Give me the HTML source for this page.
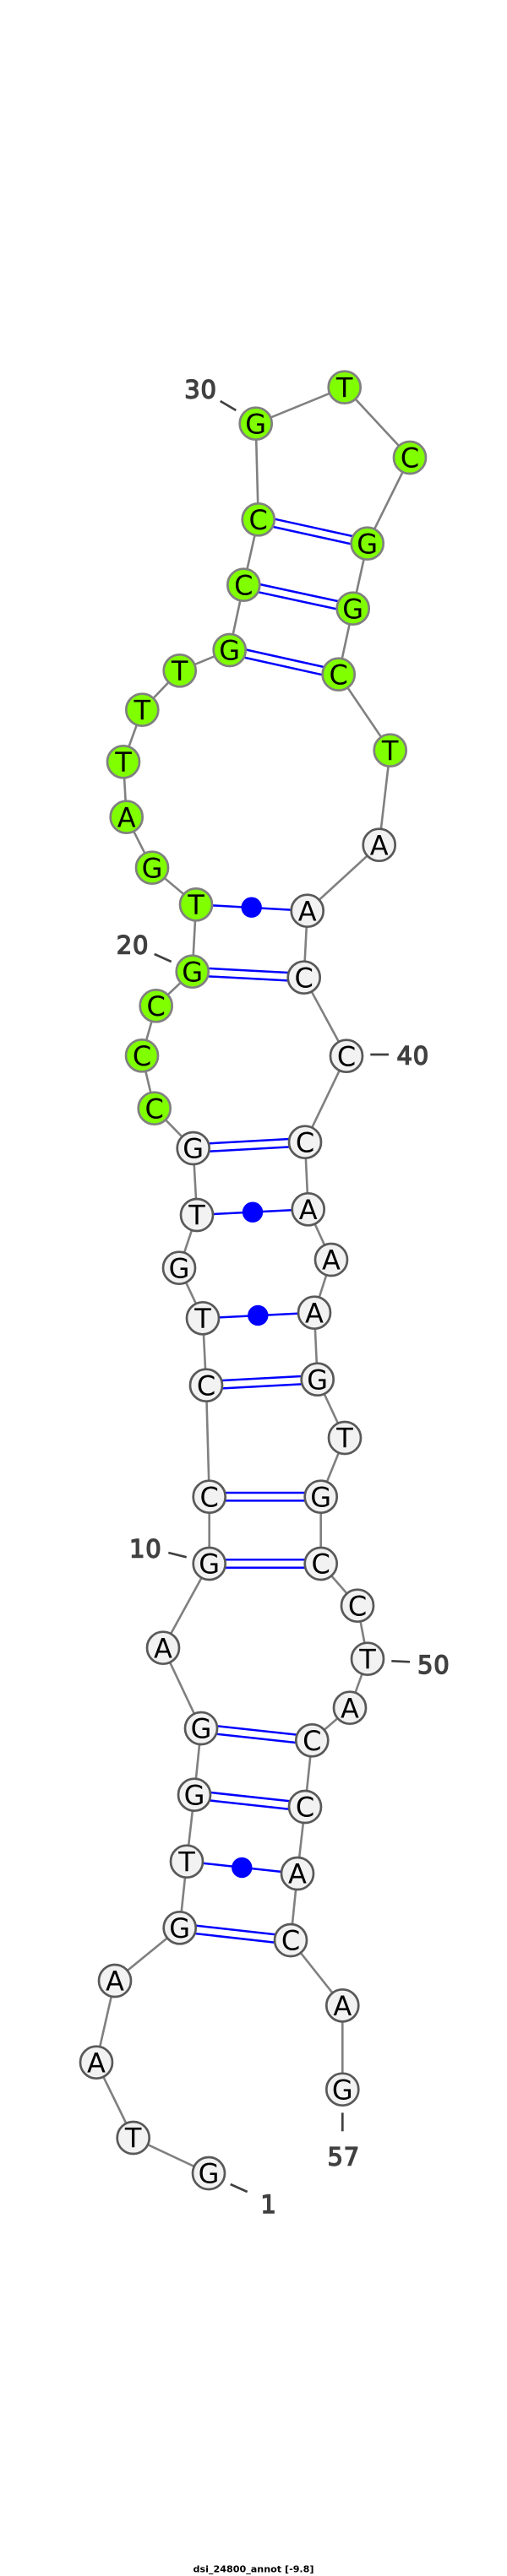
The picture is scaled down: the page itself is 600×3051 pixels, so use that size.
<!DOCTYPE html>
<html><head><meta charset="utf-8"><style>
html,body{margin:0;padding:0;background:#fff}
svg{display:block}
.n{font-family:"DejaVu Sans",sans-serif;font-size:32px;text-anchor:middle;fill:#000}
.l{font-family:"DejaVu Sans",sans-serif;font-size:29px;letter-spacing:.8px;text-anchor:middle;fill:#404040;stroke:#404040;stroke-width:1.4}
.t line{stroke:#404040;stroke-width:2.7}
.b line{stroke:#0000ff;stroke-width:2.5}
.w circle{fill:#f2f2f2;stroke:#595959;stroke-width:2.7}
.g circle{fill:#7fff00;stroke:#808080;stroke-width:2.7}
</style></head><body>
<svg xmlns="http://www.w3.org/2000/svg" width="600" height="3051" viewBox="0 0 600 3051">
<rect width="600" height="3051" fill="#fff"/>
<polyline fill="none" stroke="#808080" stroke-width="2.6" points="247,2574 157.7,2532 114,2442.7 136,2346 212.7,2283.3 221,2204.7 230,2125.7 238,2047 193,1951.7 247.7,1852 247.7,1772.7 244,1640.7 240,1561.3 212,1501.7 233,1439 228.7,1360 182.7,1312.7 168,1250.3 184.7,1191.3 227.7,1150.7 232,1071.3 180,1027.7 149.7,967.7 146,902.3 168.3,840.7 212.7,794.3 271.7,770 288.3,692.7 305.7,615.3 302.7,501.7 407.7,458.7 485,542 434.7,643.7 417.7,720.7 400.7,798.7 461.7,888.7 448.7,1000.7 363.7,1078.7 359.7,1157.7 410,1250.7 361,1352.7 364.7,1432.3 392,1492 372,1554.7 375.7,1633.7 408,1703 379.7,1772.7 379.7,1852 423,1901.7 435,1964.7 414,2022.7 369.3,2061.3 361,2140 352,2219 344,2298 405.3,2375.3 405.3,2474.7"/>
<g class="b">
<line x1="213.2" y1="2278.6" x2="344.5" y2="2293.3"/><line x1="212.2" y1="2288" x2="343.5" y2="2302.7"/>
<line x1="230.5" y1="2121" x2="361.5" y2="2135.3"/><line x1="229.5" y1="2130.4" x2="360.5" y2="2144.7"/>
<line x1="238.5" y1="2042.3" x2="369.8" y2="2056.6"/><line x1="237.5" y1="2051.7" x2="368.8" y2="2066"/>
<line x1="247.7" y1="1847.3" x2="379.7" y2="1847.3"/><line x1="247.7" y1="1856.7" x2="379.7" y2="1856.7"/>
<line x1="247.7" y1="1768" x2="379.7" y2="1768"/><line x1="247.7" y1="1777.4" x2="379.7" y2="1777.4"/>
<line x1="243.75" y1="1636" x2="375.45" y2="1629"/><line x1="244.25" y1="1645.4" x2="375.95" y2="1638.4"/>
<line x1="228.45" y1="1355.3" x2="360.75" y2="1348"/><line x1="228.95" y1="1364.7" x2="361.25" y2="1357.4"/>
<line x1="227.95" y1="1146" x2="359.95" y2="1153"/><line x1="227.45" y1="1155.4" x2="359.45" y2="1162.4"/>
<line x1="272.7" y1="765.4" x2="401.7" y2="794.1"/><line x1="270.7" y1="774.6" x2="399.7" y2="803.3"/>
<line x1="289.3" y1="688.1" x2="418.7" y2="716.1"/><line x1="287.3" y1="697.3" x2="416.7" y2="725.3"/>
<line x1="306.7" y1="610.7" x2="435.7" y2="639.1"/><line x1="304.7" y1="619.9" x2="433.7" y2="648.3"/>
<line x1="221" y1="2204.7" x2="352" y2="2219"/>
<line x1="240" y1="1561.3" x2="372" y2="1554.7"/>
<line x1="233" y1="1439" x2="364.7" y2="1432.3"/>
<line x1="232" y1="1071.3" x2="363.7" y2="1078.7"/>
</g>
<g fill="#0000ff">
<circle cx="286.3" cy="2212" r="12.2"/>
<circle cx="305.3" cy="1558" r="12.2"/>
<circle cx="299" cy="1435.7" r="12.2"/>
<circle cx="297.7" cy="1074.7" r="12.2"/>
</g>
<g class="w">
<circle cx="247" cy="2574" r="19"/><circle cx="157.7" cy="2532" r="19"/><circle cx="114" cy="2442.7" r="19"/><circle cx="136" cy="2346" r="19"/><circle cx="212.7" cy="2283.3" r="19"/><circle cx="221" cy="2204.7" r="19"/><circle cx="230" cy="2125.7" r="19"/><circle cx="238" cy="2047" r="19"/><circle cx="193" cy="1951.7" r="19"/><circle cx="247.7" cy="1852" r="19"/><circle cx="247.7" cy="1772.7" r="19"/><circle cx="244" cy="1640.7" r="19"/><circle cx="240" cy="1561.3" r="19"/><circle cx="212" cy="1501.7" r="19"/><circle cx="233" cy="1439" r="19"/><circle cx="228.7" cy="1360" r="19"/>
<circle cx="448.7" cy="1000.7" r="19"/><circle cx="363.7" cy="1078.7" r="19"/><circle cx="359.7" cy="1157.7" r="19"/><circle cx="410" cy="1250.7" r="19"/><circle cx="361" cy="1352.7" r="19"/><circle cx="364.7" cy="1432.3" r="19"/><circle cx="392" cy="1492" r="19"/><circle cx="372" cy="1554.7" r="19"/><circle cx="375.7" cy="1633.7" r="19"/><circle cx="408" cy="1703" r="19"/><circle cx="379.7" cy="1772.7" r="19"/><circle cx="379.7" cy="1852" r="19"/><circle cx="423" cy="1901.7" r="19"/><circle cx="435" cy="1964.7" r="19"/><circle cx="414" cy="2022.7" r="19"/><circle cx="369.3" cy="2061.3" r="19"/><circle cx="361" cy="2140" r="19"/><circle cx="352" cy="2219" r="19"/><circle cx="344" cy="2298" r="19"/><circle cx="405.3" cy="2375.3" r="19"/><circle cx="405.3" cy="2474.7" r="19"/>
</g>
<g class="g">
<circle cx="182.7" cy="1312.7" r="19"/><circle cx="168" cy="1250.3" r="19"/><circle cx="184.7" cy="1191.3" r="19"/><circle cx="227.7" cy="1150.7" r="19"/><circle cx="232" cy="1071.3" r="19"/><circle cx="180" cy="1027.7" r="19"/><circle cx="149.7" cy="967.7" r="19"/><circle cx="146" cy="902.3" r="19"/><circle cx="168.3" cy="840.7" r="19"/><circle cx="212.7" cy="794.3" r="19"/><circle cx="271.7" cy="770" r="19"/><circle cx="288.3" cy="692.7" r="19"/><circle cx="305.7" cy="615.3" r="19"/><circle cx="302.7" cy="501.7" r="19"/><circle cx="407.7" cy="458.7" r="19"/><circle cx="485" cy="542" r="19"/><circle cx="434.7" cy="643.7" r="19"/><circle cx="417.7" cy="720.7" r="19"/><circle cx="400.7" cy="798.7" r="19"/><circle cx="461.7" cy="888.7" r="19"/>
</g>
<g class="n">
<text x="247" y="2585.7">G</text><text x="157.7" y="2543.7">T</text><text x="114" y="2454.4">A</text><text x="136" y="2357.7">A</text><text x="212.7" y="2295">G</text><text x="221" y="2216.4">T</text><text x="230" y="2137.4">G</text><text x="238" y="2058.7">G</text><text x="193" y="1963.4">A</text><text x="247.7" y="1863.7">G</text><text x="247.7" y="1784.4">C</text><text x="244" y="1652.4">C</text><text x="240" y="1573">T</text><text x="212" y="1513.4">G</text><text x="233" y="1450.7">T</text><text x="228.7" y="1371.7">G</text><text x="182.7" y="1324.4">C</text><text x="168" y="1262">C</text><text x="184.7" y="1203">C</text><text x="227.7" y="1162.4">G</text><text x="232" y="1083">T</text><text x="180" y="1039.4">G</text><text x="149.7" y="979.4">A</text><text x="146" y="914">T</text><text x="168.3" y="852.4">T</text><text x="212.7" y="806">T</text><text x="271.7" y="781.7">G</text><text x="288.3" y="704.4">C</text><text x="305.7" y="627">C</text><text x="302.7" y="513.4">G</text><text x="407.7" y="470.4">T</text><text x="485" y="553.7">C</text><text x="434.7" y="655.4">G</text><text x="417.7" y="732.4">G</text><text x="400.7" y="810.4">C</text><text x="461.7" y="900.4">T</text><text x="448.7" y="1012.4">A</text><text x="363.7" y="1090.4">A</text><text x="359.7" y="1169.4">C</text><text x="410" y="1262.4">C</text><text x="361" y="1364.4">C</text><text x="364.7" y="1444">A</text><text x="392" y="1503.7">A</text><text x="372" y="1566.4">A</text><text x="375.7" y="1645.4">G</text><text x="408" y="1714.7">T</text><text x="379.7" y="1784.4">G</text><text x="379.7" y="1863.7">C</text><text x="423" y="1913.4">C</text><text x="435" y="1976.4">T</text><text x="414" y="2034.4">A</text><text x="369.3" y="2073">C</text><text x="361" y="2151.7">C</text><text x="352" y="2230.7">A</text><text x="344" y="2309.7">C</text><text x="405.3" y="2387">A</text><text x="405.3" y="2486.4">G</text>
</g>
<g class="t">
<line x1="260.7" y1="475" x2="279.3" y2="486"/>
<line x1="182.7" y1="1130" x2="202.7" y2="1139"/>
<line x1="438.3" y1="1249" x2="460" y2="1249"/>
<line x1="199.3" y1="1839" x2="220.7" y2="1844.3"/>
<line x1="463.3" y1="1967.3" x2="485" y2="1968.3"/>
<line x1="272.7" y1="2587" x2="292.7" y2="2596"/>
<line x1="405.3" y1="2502.3" x2="405.3" y2="2524.3"/>
</g>
<g class="l">
<text x="237.5" y="471.7">30</text>
<text x="157" y="1129.3">20</text>
<text x="488.7" y="1260.7">40</text>
<text x="172.3" y="1844.3">10</text>
<text x="513.3" y="1982">50</text>
<text x="318" y="2621">1</text>
<text x="406.7" y="2564.3">57</text>
</g>
<text x="300" y="3046.5" text-anchor="middle" font-family="'DejaVu Sans',sans-serif" font-weight="bold" font-size="10.5" textLength="143" lengthAdjust="spacingAndGlyphs" fill="#000">dsi_24800_annot [-9.8]</text>
</svg>
</body></html>
